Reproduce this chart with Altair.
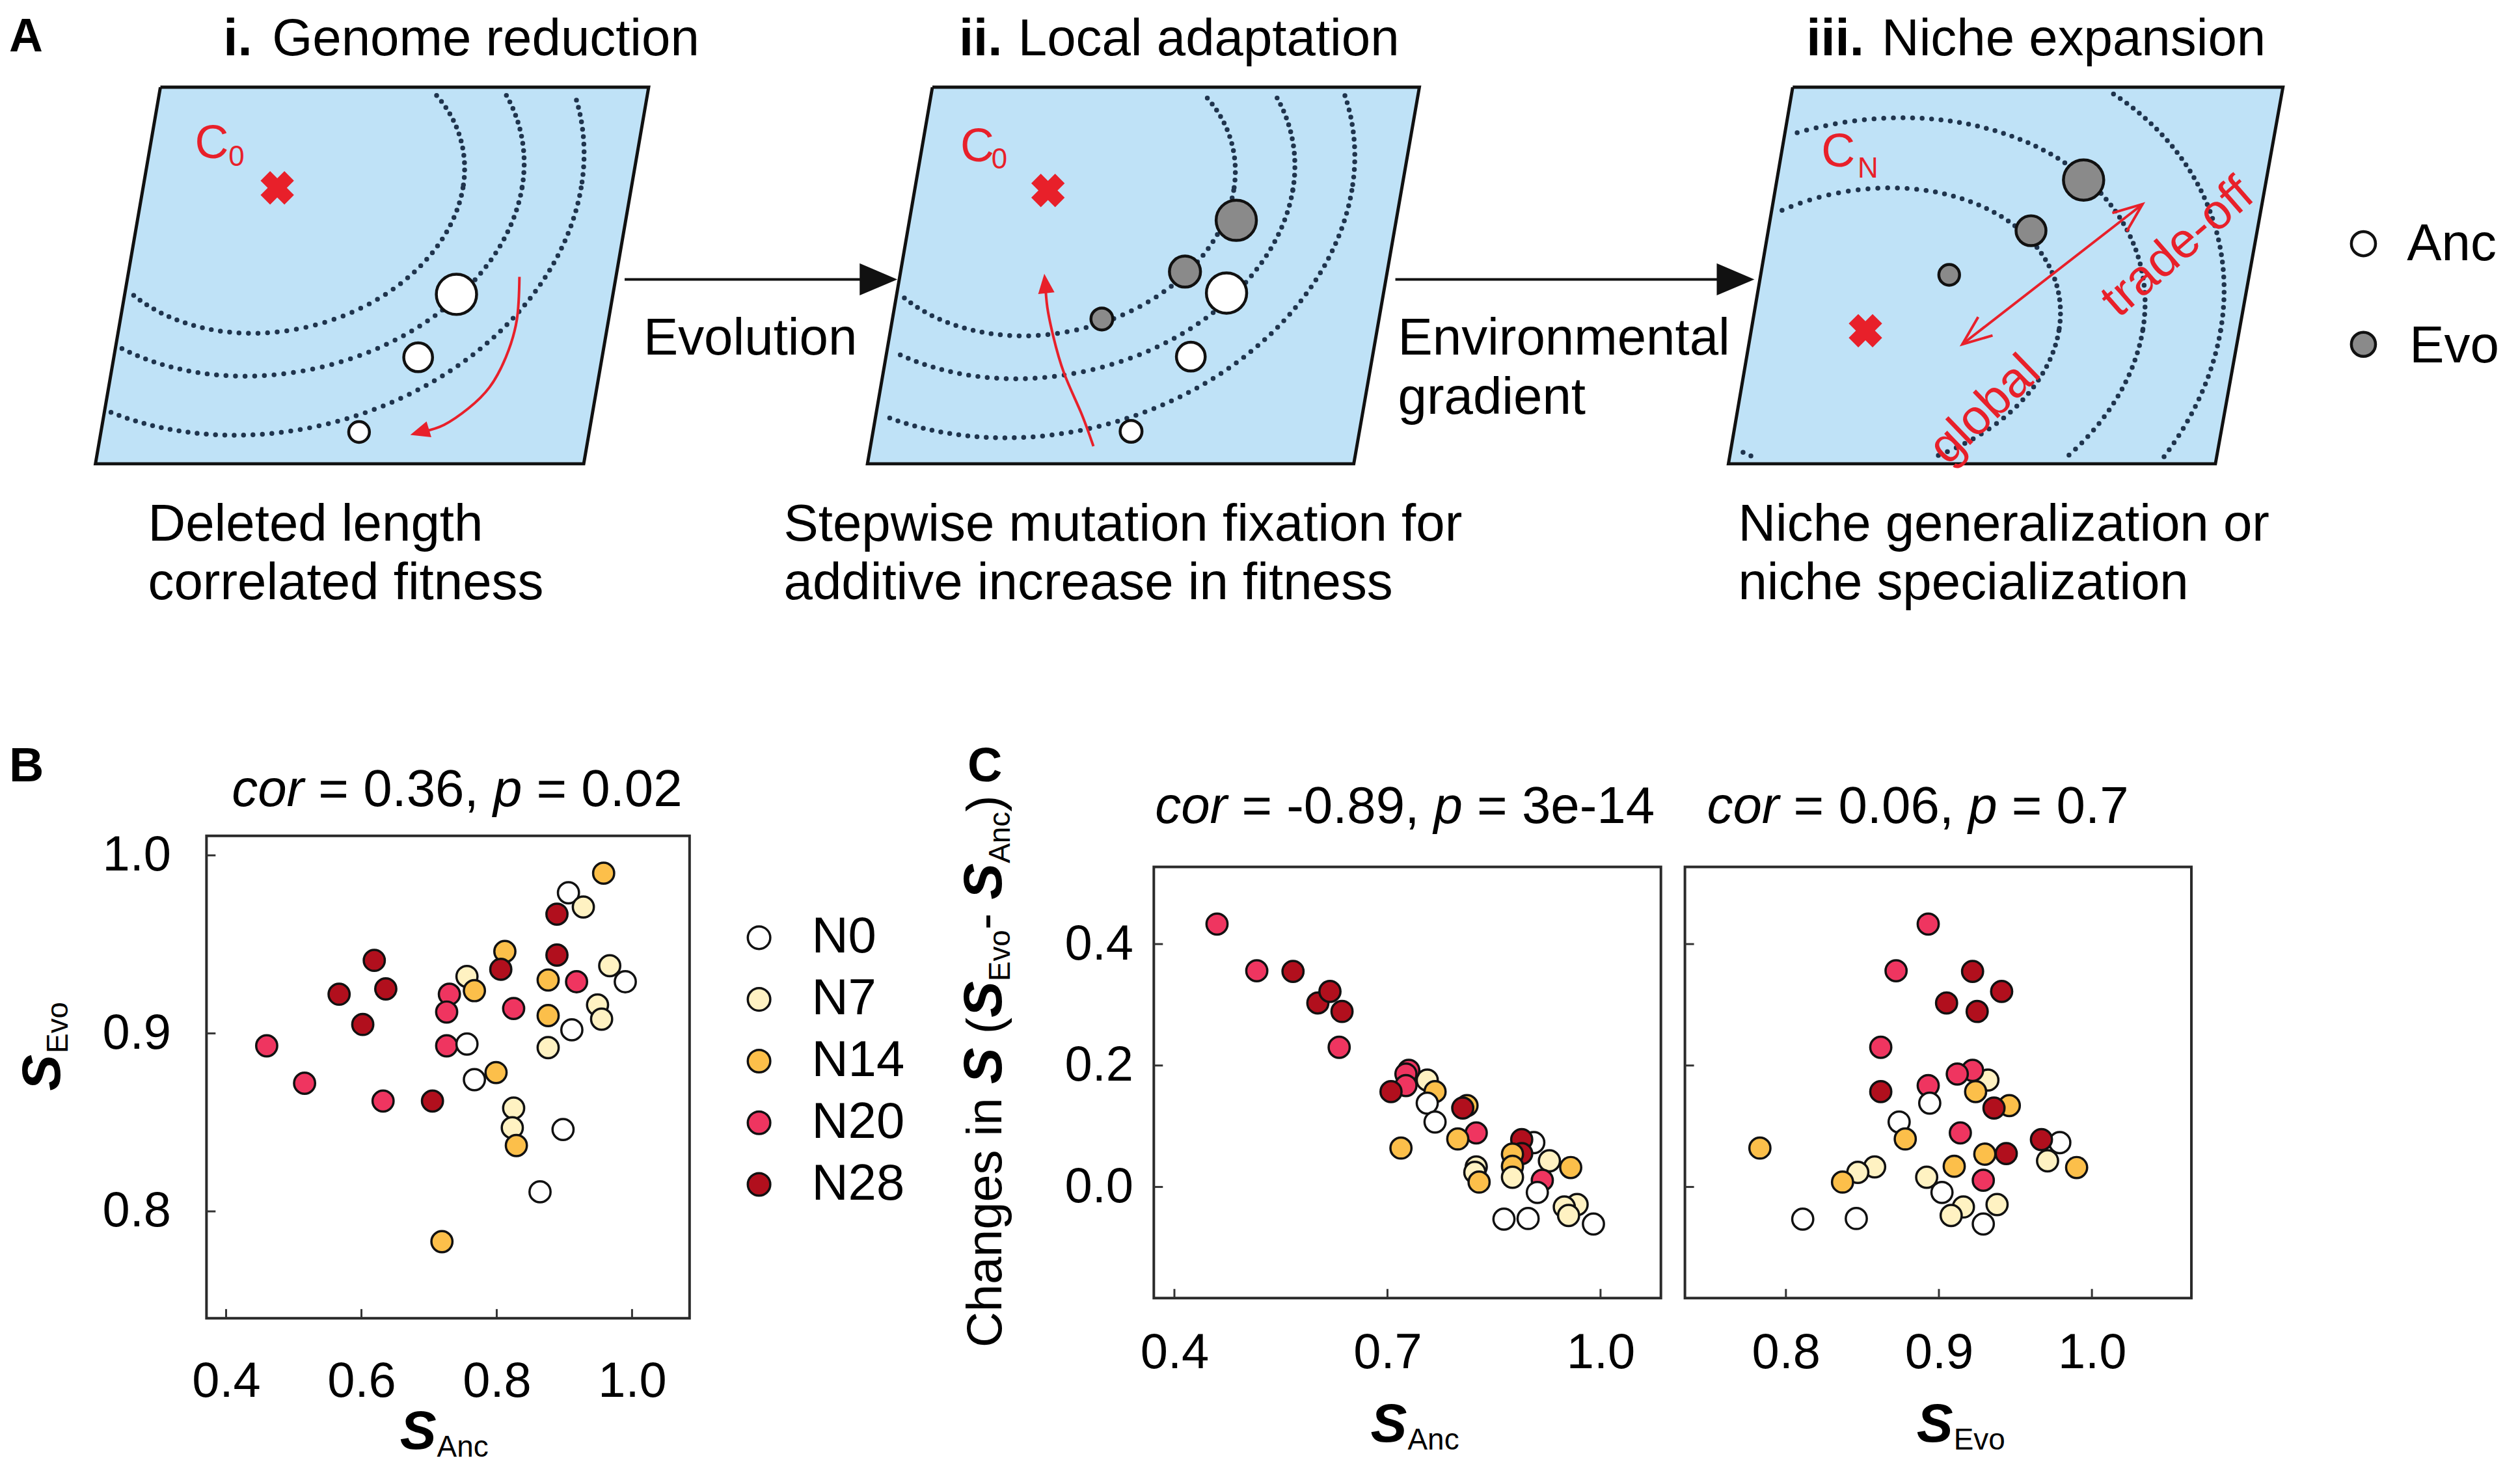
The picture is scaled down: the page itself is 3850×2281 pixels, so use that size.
import altair as alt
import pandas as pd

FONT = "Liberation Sans"
RED = "#e8202a"
INK = "#111111"

# ----------------- Panels B / C : values -----------------
s_anc = [0.958, 0.906, 0.928, 0.889, 0.812, 0.806, 0.889, 0.876, 0.918, 0.967,
         0.990, 0.949, 0.955, 0.911, 0.876, 0.876, 0.825, 0.756, 0.767, 0.730,
         0.726, 0.726, 0.756, 0.767, 0.799, 0.825, 0.823, 0.829, 0.898, 0.864,
         0.719, 0.705, 0.632, 0.516, 0.460, 0.602, 0.567, 0.619, 0.636]
s_evo = [0.990, 0.979, 0.971, 0.967, 0.946, 0.936, 0.944, 0.930, 0.929, 0.938,
         0.929, 0.916, 0.908, 0.902, 0.910, 0.892, 0.914, 0.932, 0.924, 0.922,
         0.912, 0.893, 0.894, 0.874, 0.878, 0.858, 0.847, 0.837, 0.846, 0.811,
         0.783, 0.862, 0.862, 0.872, 0.893, 0.905, 0.922, 0.941, 0.925]
line_group = ["N14", "N0", "N7", "N28", "N14", "N28", "N28", "N14", "N20", "N7",
              "N0", "N7", "N7", "N0", "N14", "N7", "N20", "N7", "N14", "N20",
              "N20", "N20", "N0", "N0", "N14", "N7", "N7", "N14", "N0", "N0",
              "N14", "N28", "N20", "N20", "N20", "N28", "N28", "N28", "N28"]
groups = ["N0", "N7", "N14", "N20", "N28"]
group_colors = ["#ffffff", "#fff2c2", "#fcbf4a", "#ef3560", "#b10f1d"]

b_xticks = [0.4, 0.6, 0.8, 1.0]
b_yticks = [0.8, 0.9, 1.0]
c1_xticks = [0.4, 0.7, 1.0]
c2_xticks = [0.8, 0.9, 1.0]
c_yticks = [0.0, 0.2, 0.4]

# ----------------- Panel A : schematic geometry -----------------
SHEAR = 0.172
plane_top, plane_bottom = 131, 711
plane_tl = [243, 1432, 2757]
plane_tr = [995, 2182, 3512]
plane_bl = [143, 1332, 2658]
plane_br = [895, 2081, 3408]

opt_x = [423, 1610, 2869]
opt_y = [286, 290, 506]
ring_rx = [[286, 377, 468], [286, 377, 468], [298, 427, 547]]
ring_ry = [[224, 290, 381], [224, 290, 381], [220, 328, 449]]

anc_x = [699, 640, 549, 1885, 1830, 1738, 3636]
anc_y = [450, 547, 662, 448, 546, 661, 372]
anc_r = [37, 27, 20, 37, 27, 21, 23]
evo_x = [1900, 1821, 1693, 3205, 3124, 2998, 3636]
evo_y = [336, 415, 488, 274, 352, 420, 527]
evo_r = [37, 29, 21, 37, 28, 20, 23]

curve_id = ["i"] * 7 + ["ii"] * 6
curve_x = [796, 792, 775, 750, 717, 680, 650, 1680, 1660, 1635, 1618, 1609, 1606]
curve_y = [423, 489, 547, 593, 626, 651, 661, 684, 630, 572, 514, 470, 436]
head_x = [643, 1606]
head_y = [662, 434]
head_ang = [253, 354]

# Arial advance widths (em) used to lay out mixed-style text runs
W = {" ": .278, "=": .584, ".": .278, ",": .278, "-": .333, "c": .5, "o": .556,
     "r": .333, "p": .556, "e": .556, "C": .722, "h": .556, "a": .556, "n": .556,
     "g": .556, "s": .5, "i": .222, "(": .333, ")": .333, "S": .667, "E": .667,
     "v": .5, "A": .667}
for d in "0123456789":
    W[d] = .556


def tw(text, size):
    return sum(W.get(ch, .556) for ch in text) * size


# ---------------------------------------------------------------------------
ax_x = alt.Scale(domain=[8, 3842], nice=False, zero=False)
ax_y = alt.Scale(domain=[8, 1138], nice=False, zero=False, reverse=True)


def AX(f):
    return alt.X(f, type="quantitative", scale=ax_x, axis=None)


def AY(f):
    return alt.Y(f, type="quantitative", scale=ax_y, axis=None)


area_rows = []
outline_rows = []
for p in range(3):
    area_rows.append(dict(panel=p, y=plane_top, xl=plane_tl[p], xr=plane_tr[p]))
    area_rows.append(dict(panel=p, y=plane_bottom, xl=plane_bl[p], xr=plane_br[p]))
    pts = [(plane_tl[p], plane_top), (plane_tr[p], plane_top), (plane_br[p], plane_bottom),
           (plane_bl[p], plane_bottom), (plane_tl[p], plane_top)]
    for o, (xx, yy) in enumerate(pts):
        outline_rows.append(dict(panel=p, o=o, x=xx, y=yy))

planes = alt.Chart(pd.DataFrame(area_rows)).mark_area(
    orient="horizontal", color="#bfe2f7", opacity=1
).encode(
    y=AY("y"),
    x=alt.X("xl", type="quantitative", scale=ax_x, axis=None, stack=None),
    x2="xr:Q",
    detail="panel:N",
)
outlines = alt.Chart(pd.DataFrame(outline_rows)).mark_line(
    color=INK, strokeWidth=5, strokeJoin="miter"
).encode(x=AX("x"), y=AY("y"), detail="panel:N", order="o:Q")

ring_rows = []
for p in range(3):
    for k in range(3):
        ring_rows.append(dict(panel=p, cx=opt_x[p], cy=opt_y[p], rx=ring_rx[p][k],
                              ry=ring_ry[p][k], xl=plane_bl[p], xr=plane_br[p]))
rings = alt.Chart(pd.DataFrame(ring_rows)).transform_calculate(
    cxu=f"datum.cx - {SHEAR}*({plane_bottom} - datum.cy)",
    ts="sequence(0, 360, 1500/(datum.rx + datum.ry))",
).transform_flatten(["ts"]).transform_calculate(
    xu="datum.cxu + datum.rx*cos(datum.ts*PI/180)",
    y="datum.cy + datum.ry*sin(datum.ts*PI/180)",
).transform_filter(
    f"datum.xu > datum.xl + 9 && datum.xu < datum.xr - 9 && datum.y > {plane_top + 9} && datum.y < {plane_bottom - 9}"
).transform_calculate(
    x=f"datum.xu + {SHEAR}*({plane_bottom} - datum.y)"
).mark_circle(size=56, color="#1f344d", opacity=1).encode(x=AX("x"), y=AY("y"))

optima = alt.Chart(pd.DataFrame({"x": opt_x, "y": opt_y})).mark_point(
    shape="cross", angle=45, filled=True, size=2700, color=RED, opacity=1
).encode(x=AX("x"), y=AY("y"))

circ_df = pd.DataFrame({
    "x": anc_x + evo_x,
    "y": anc_y + evo_y,
    "r": anc_r + evo_r,
    "fill": ["#ffffff"] * len(anc_x) + ["#8a8a8a"] * len(evo_x),
})
circles = alt.Chart(circ_df).transform_calculate(
    sz="PI*(datum.r-2)*(datum.r-2)"
).mark_circle(stroke=INK, strokeWidth=4.5, opacity=1).encode(
    x=AX("x"), y=AY("y"),
    size=alt.Size("sz:Q", scale=None, legend=None),
    color=alt.Color("fill:N", scale=None, legend=None),
)

curves = alt.Chart(pd.DataFrame({"id": curve_id, "x": curve_x, "y": curve_y,
                                 "o": list(range(len(curve_x)))})).mark_line(
    color=RED, strokeWidth=4, interpolate="natural"
).encode(x=AX("x"), y=AY("y"), detail="id:N", order="o:Q")
curve_heads = alt.Chart(pd.DataFrame({"x": head_x, "y": head_y, "a": head_ang})).mark_point(
    shape="M0,-1L0.8,0.9L-0.8,0.9Z", filled=True, color=RED, size=1000, opacity=1
).encode(x=AX("x"), y=AY("y"), angle=alt.Angle("a:Q", scale=None))

# double-headed arrow (panel iii)
dbl = alt.Chart(pd.DataFrame({"x": [3018], "y": [527], "x2": [3296], "y2": [311]})).mark_rule(
    color=RED, strokeWidth=4
).encode(x=AX("x"), y=AY("y"), x2="x2:Q", y2="y2:Q")
dbl_heads = alt.Chart(pd.DataFrame({"x": [3278, 3036], "y": [325, 513], "a": [52, 232]})).mark_point(
    shape="M-0.8,1L0,-1L0.8,1", filled=False, color=RED, strokeWidth=4, size=2025, opacity=1
).encode(x=AX("x"), y=AY("y"), angle=alt.Angle("a:Q", scale=None))

# black process arrows
arrows = alt.Chart(pd.DataFrame({"x": [958, 2145], "x2": [1349, 2669], "y": [427, 427]})).mark_rule(
    color=INK, strokeWidth=4
).encode(x=AX("x"), x2="x2:Q", y=AY("y"))
arrow_heads = alt.Chart(pd.DataFrame({"x": [1349, 2669], "y": [427, 427]})).mark_point(
    shape="M-1,-0.85L1,0L-1,0.85Z", filled=True, color=INK, size=3364, opacity=1
).encode(x=AX("x"), y=AY("y"))


def a_text(rows, size=80, weight="normal", style="normal", color="#000", angle=0,
           align="left", baseline="alphabetic"):
    df = pd.DataFrame(rows, columns=["x", "y", "t"])
    return alt.Chart(df).mark_text(
        font=FONT, fontSize=size, fontWeight=weight, fontStyle=style, color=color,
        angle=angle, align=align, baseline=baseline
    ).encode(x=AX("x"), y=AY("y"), text="t:N")


txt_bold_big = a_text([(10, 76, "A")], size=72, weight="bold")
txt_bold = a_text([(340, 82, "i."), (1473, 82, "ii."), (2778, 82, "iii.")], weight="bold")
txt_norm = a_text([
    (415, 82, "Genome reduction"), (1564, 82, "Local adaptation"), (2894, 82, "Niche expansion"),
    (987, 543, "Evolution"), (2149, 543, "Environmental"), (2149, 634, "gradient"),
    (224, 829, "Deleted length"), (224, 920, "correlated fitness"),
    (1203, 829, "Stepwise mutation fixation for"), (1203, 920, "additive increase in fitness"),
    (2673, 829, "Niche generalization or"), (2673, 920, "niche specialization"),
    (3703, 397, "Anc"), (3707, 555, "Evo"),
])
txt_red_c = a_text([(296, 240, "C"), (1475, 245, "C"), (2801, 253, "C")], size=72, color=RED)
txt_red_sub = a_text([(348, 252, "0"), (1523, 256, "0"), (2857, 270, "N")], size=44, color=RED)
txt_trade = a_text([(3350, 378, "trade-off")], size=76, color=RED, angle=319,
                   align="center", baseline="middle")
txt_global = a_text([(3053, 628, "global")], size=76, color=RED, angle=316,
                    align="center", baseline="middle")

panel_a = alt.layer(
    planes, rings, outlines, curves, curve_heads, dbl, dbl_heads, arrows, arrow_heads,
    circles, optima, txt_bold_big, txt_bold, txt_norm, txt_red_c, txt_red_sub,
    txt_trade, txt_global,
).properties(width=3834, height=1130)

# ---------------------------------------------------------------------------
df = pd.DataFrame({"s_anc": s_anc, "s_evo": s_evo, "group": line_group})
dummy = pd.DataFrame({"k": [0]})
color_scale = alt.Scale(domain=groups, range=group_colors)


def ptxt(text, x, y, size=80, weight="normal", style="normal", angle=0, align="left"):
    return alt.Chart(dummy).mark_text(
        text=text, font=FONT, fontSize=size, fontWeight=weight, fontStyle=style,
        angle=angle, align=align, baseline="alphabetic", color="#000"
    ).encode(x=alt.value(x), y=alt.value(y))


def title_run(pieces, x0, y, size=80):
    """pieces: list of (text, italic) laid out left-to-right separated by one space."""
    out = []
    x = x0
    for text, ital in pieces:
        out.append(ptxt(text, x, y, size=size, style="italic" if ital else "normal"))
        x += tw(text, size) + tw(" ", size)
    return out


def vertical_run(pieces, x_base, y0):
    """pieces: (text, size, weight, style, x_shift, space_after) stacked upward (angle 270)."""
    out = []
    y = y0
    for text, size, weight, style, dx, gap in pieces:
        out.append(ptxt(text, x_base + dx, y, size=size, weight=weight, style=style, angle=270))
        y -= tw(text, size) + gap
    return out


def scatter(xf, yf, xdom, ydom, w, h, xt, yt, xpad, ypad, ylabels, legend, calc, extras):
    xs = alt.Scale(domain=xdom, nice=False, zero=False)
    ys = alt.Scale(domain=ydom, nice=False, zero=False)
    xax = alt.Axis(values=xt, format=".1f", labelFont=FONT, labelFontSize=76, labelColor="#000",
                   labelPadding=xpad, labelBaseline="alphabetic", labelOverlap=False,
                   labelFlush=False, ticks=False, tickSize=0, domain=False, grid=False, title=None)
    yax = alt.Axis(values=yt, format=".1f", labelFont=FONT, labelFontSize=76, labelColor="#000",
                   labelPadding=ypad, labelOverlap=False, labelFlush=False, labels=ylabels,
                   ticks=False, tickSize=0, domain=False, grid=False, title=None)
    base = alt.Chart(df)
    if calc:
        base = base.transform_calculate(d_s="datum.s_evo - datum.s_anc")
    pts = base.mark_circle(size=1050, opacity=1, stroke=INK, strokeWidth=3.5).encode(
        x=alt.X(f"{xf}:Q", scale=xs, axis=xax),
        y=alt.Y(f"{yf}:Q", scale=ys, axis=yax),
        color=alt.Color("group:N", scale=color_scale, legend=legend),
    )
    xtick = alt.Chart(pd.DataFrame({xf: xt})).mark_rule(color="#333", strokeWidth=3).encode(
        x=alt.X(f"{xf}:Q", scale=xs, axis=xax), y=alt.value(h), y2=alt.value(h - 14))
    ytick = alt.Chart(pd.DataFrame({yf: yt})).mark_rule(color="#333", strokeWidth=3).encode(
        y=alt.Y(f"{yf}:Q", scale=ys, axis=yax), x=alt.value(0), x2=alt.value(14))
    return alt.layer(pts, xtick, ytick, *extras).properties(
        width=w, height=h, view=alt.ViewBackground(stroke="#2a2a2a", strokeWidth=4))


b_legend = alt.Legend(orient="none", legendX=812, legendY=118, title=None, padding=0,
                      symbolType="circle", symbolSize=1200, symbolStrokeColor=INK,
                      symbolStrokeWidth=3.5, symbolOpacity=1, labelFont=FONT, labelFontSize=78,
                      labelColor="#000", labelOffset=42, rowPadding=17)

b_extras = [ptxt("B", -304, -84, size=74, weight="bold")]
b_extras += title_run([("cor", True), ("= 0.36,", False), ("p", True), ("= 0.02", False)], 39, -46)
b_extras += [
    ptxt("S", -226, 393, size=84, weight="bold", style="italic", angle=270),
    ptxt("Evo", -214, 335, size=46, angle=270),
    ptxt("S", 298, 944, size=84, weight="bold", style="italic"),
    ptxt("Anc", 355, 956, size=46),
]
panel_b = scatter("s_anc", "s_evo", [0.371, 1.085], [0.74, 1.011], 744, 743,
                  b_xticks, b_yticks, 121, 55, True, b_legend, False, b_extras)

c1_extras = [ptxt("C", -287, -132, size=74, weight="bold")]
c1_extras += title_run([("cor", True), ("= -0.89,", False), ("p", True), ("= 3e-14", False)], 2, -68)
c1_extras += vertical_run([
    ("Changes in", 76, "normal", "normal", 0, tw(" ", 76)),
    ("S", 84, "bold", "italic", 0, tw(" ", 76)),
    ("(", 76, "normal", "normal", 0, 0),
    ("S", 84, "bold", "italic", 0, 0),
    ("Evo", 46, "normal", "normal", 13, 0),
    ("-", 76, "normal", "normal", 0, tw(" ", 76)),
    ("S", 84, "bold", "italic", 0, 0),
    ("Anc", 46, "normal", "normal", 13, 0),
    (")", 76, "normal", "normal", 0, 0),
], -235, 740)
c1_extras += [
    ptxt("S", 334, 885, size=84, weight="bold", style="italic"),
    ptxt("Anc", 391, 897, size=46),
]
panel_c1 = scatter("s_anc", "d_s", [0.371, 1.085], [-0.183, 0.527], 781, 664,
                   c1_xticks, c_yticks, 108, 32, True, None, True, c1_extras)

c2_extras = title_run([("cor", True), ("= 0.06,", False), ("p", True), ("= 0.7", False)], 34, -68)
c2_extras += [
    ptxt("S", 357, 885, size=84, weight="bold", style="italic"),
    ptxt("Evo", 414, 897, size=46),
]
panel_c2 = scatter("s_evo", "d_s", [0.734, 1.065], [-0.183, 0.527], 780, 664,
                   c2_xticks, c_yticks, 108, 32, False, None, True, c2_extras)


def spacer(w, h):
    return alt.Chart(dummy).mark_point(opacity=0).encode(
        x=alt.value(0), y=alt.value(0)).properties(width=w, height=h)


c_row = alt.hconcat(panel_c1, spacer(37, 10), panel_c2, spacing=0, bounds="flush")
c_col = alt.vconcat(spacer(10, 38), c_row, spacing=10, bounds="flush")
row = alt.hconcat(spacer(306, 10), panel_b, spacer(715, 10), c_col,
                  spacing=0, bounds="flush").resolve_scale(color="independent")

chart = alt.vconcat(panel_a, row, spacing=146, bounds="flush").properties(
    padding=0, background="white"
).configure_view(stroke="transparent")

chart.save("out.html", embed_options={"renderer": "svg", "actions": False})
